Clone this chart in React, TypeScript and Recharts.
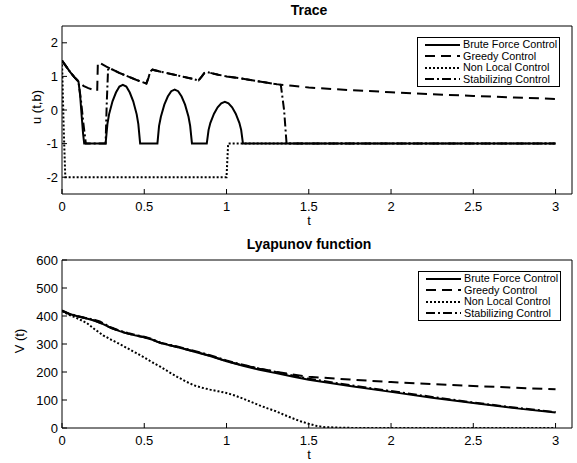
import { LineChart, Line, XAxis, YAxis, Legend } from "recharts";

type Pt = [number, number];

const FONT = '"Liberation Sans", Arial, Helvetica, sans-serif';

const SERIES_NAMES = ["Brute Force Control", "Greedy Control", "Non Local Control", "Stabilizing Control"];
const SERIES_DASH = ["", "10 6", "2 2", "9 3 2 3"];
// non local first, brute force last so it sits on top
const DRAW_ORDER = [2, 1, 3, 0];

const X_TICKS = [0, 0.5, 1, 1.5, 2, 2.5, 3];
const TRACE_TICKS = [-2, -1, 0, 1, 2];
const LYAP_TICKS = [0, 100, 200, 300, 400, 500, 600];

// ---- Trace: u(t,b) ----
const traceBrute: Pt[] = [
  [0, 1.47], [0.025, 1.3], [0.05, 1.13], [0.075, 0.98], [0.1, 0.85],
  [0.11, 0.45], [0.12, -0.2], [0.128, -0.7], [0.135, -1],
  [0.265, -1], [0.276, -0.42], [0.286, -0.13], [0.307, 0.26], [0.328, 0.52], [0.349, 0.7],
  [0.37, 0.75], [0.391, 0.7], [0.412, 0.52], [0.433, 0.26], [0.454, -0.13], [0.464, -0.42], [0.475, -1],
  [0.58, -1], [0.59, -0.47], [0.601, -0.2], [0.622, 0.16], [0.643, 0.4], [0.664, 0.56],
  [0.685, 0.61], [0.706, 0.56], [0.727, 0.4], [0.748, 0.16], [0.769, -0.2], [0.779, -0.47], [0.79, -1],
  [0.88, -1], [0.891, -0.59], [0.902, -0.38], [0.924, -0.11], [0.946, 0.08], [0.968, 0.2],
  [0.99, 0.24], [1.012, 0.2], [1.034, 0.08], [1.056, -0.11], [1.078, -0.38], [1.089, -0.59], [1.1, -1],
  [3, -1],
];
const traceGreedy: Pt[] = [
  [0, 1.47], [0.025, 1.3], [0.05, 1.13], [0.075, 0.98], [0.1, 0.85], [0.13, 0.72], [0.16, 0.65],
  [0.19, 0.6], [0.214, 0.57], [0.218, 1.42], [0.23, 1.4], [0.27, 1.29], [0.3, 1.22], [0.35, 1.1],
  [0.4, 1.0], [0.45, 0.9], [0.5, 0.81], [0.513, 0.79], [0.525, 0.95], [0.537, 1.15], [0.55, 1.2],
  [0.6, 1.14], [0.7, 1.03], [0.8, 0.92], [0.83, 0.88], [0.85, 1.0], [0.865, 1.1], [0.88, 1.13],
  [0.95, 1.05], [1.0, 1.0], [1.1, 0.93], [1.2, 0.85], [1.3, 0.77], [1.4, 0.72], [1.5, 0.67],
  [1.75, 0.59], [2.0, 0.53], [2.25, 0.47], [2.5, 0.42], [2.75, 0.37], [3, 0.33],
];
const traceNonLocal: Pt[] = [
  [0, 1.47], [0.01, -0.5], [0.02, -2], [1.0, -2], [1.005, -1.5], [1.01, -1], [3, -1],
];
const traceStabilizing: Pt[] = [
  [0, 1.47], [0.025, 1.3], [0.05, 1.13], [0.075, 0.98], [0.1, 0.85], [0.115, 0.3], [0.13, -0.4],
  [0.145, -1], [0.265, -1], [0.272, 0.2], [0.28, 1.2], [0.29, 1.25], [0.3, 1.22], [0.35, 1.1],
  [0.4, 1.0], [0.45, 0.9], [0.5, 0.81], [0.513, 0.79], [0.525, 0.95], [0.537, 1.15], [0.55, 1.2],
  [0.6, 1.14], [0.7, 1.03], [0.8, 0.92], [0.83, 0.88], [0.85, 1.0], [0.865, 1.1], [0.88, 1.13],
  [0.95, 1.05], [1.0, 1.0], [1.1, 0.93], [1.2, 0.85], [1.3, 0.77], [1.33, 0.75], [1.35, 0.0],
  [1.365, -1], [3, -1],
];

// ---- Lyapunov function V(t) ----
const lyapBrute: Pt[] = [
  [0, 418], [0.05, 406], [0.1, 398], [0.15, 391], [0.2, 383], [0.25, 371], [0.3, 357], [0.35, 346],
  [0.4, 337], [0.45, 330], [0.5, 324], [0.55, 315], [0.6, 303], [0.7, 289], [0.8, 273], [0.9, 257],
  [1.0, 238], [1.1, 222], [1.2, 208], [1.3, 196], [1.4, 184], [1.5, 172], [1.75, 150], [2.0, 129],
  [2.25, 108], [2.5, 89], [2.75, 71], [3.0, 55],
];
const lyapGreedy: Pt[] = [
  [0, 418], [0.05, 406], [0.1, 398], [0.15, 391], [0.2, 383], [0.25, 371], [0.3, 357], [0.35, 346],
  [0.4, 337], [0.45, 330], [0.5, 324], [0.55, 315], [0.6, 303], [0.7, 289], [0.8, 274], [0.9, 258],
  [1.0, 239], [1.1, 224], [1.2, 212], [1.3, 201], [1.4, 191], [1.5, 183], [1.75, 173], [2.0, 164],
  [2.25, 157], [2.5, 150], [2.75, 144], [3.0, 138],
];
const lyapNonLocal: Pt[] = [
  [0, 418], [0.05, 402], [0.1, 390], [0.15, 375], [0.2, 352], [0.25, 331], [0.3, 315], [0.35, 300],
  [0.4, 284], [0.45, 268], [0.5, 252], [0.55, 234], [0.6, 218], [0.65, 200], [0.7, 183], [0.75, 167],
  [0.8, 153], [0.85, 144], [0.9, 137], [0.95, 131], [1.0, 125], [1.05, 116], [1.1, 105], [1.15, 93],
  [1.2, 81], [1.25, 70], [1.3, 60], [1.35, 47], [1.4, 35], [1.45, 24], [1.5, 15], [1.55, 7],
  [1.6, 3], [1.7, 1], [1.8, 0], [3, 0],
];
const lyapStabilizing: Pt[] = [
  [0, 420], [0.05, 407], [0.1, 399], [0.15, 392], [0.2, 386], [0.23, 381], [0.25, 374], [0.3, 359],
  [0.35, 348], [0.4, 339], [0.45, 332], [0.5, 326], [0.55, 317], [0.6, 305], [0.7, 291], [0.8, 276],
  [0.9, 260], [1.0, 241], [1.1, 226], [1.2, 212], [1.3, 200], [1.4, 188], [1.5, 176], [1.75, 153],
  [2.0, 132], [2.25, 111], [2.5, 91], [2.75, 73], [3.0, 57],
];

const toRows = (pts: Pt[]) => pts.map(([t, v]) => ({ t, v }));

function LegendBox() {
  return (
    <div
      style={{
        background: "#fff",
        border: "1px solid #000",
        padding: "1px 0 2px 7px",
        fontFamily: FONT,
        fontSize: 10.8,
        color: "#000",
        boxSizing: "border-box",
        width: 143,
        height: 50,
      }}
    >
      {SERIES_NAMES.map((name, i) => (
        <div key={name} style={{ display: "flex", alignItems: "center", height: 11.5 }}>
          <svg width={36} height={8} style={{ flex: "none" }}>
            <line x1={0} y1={4} x2={35} y2={4} stroke="#000" strokeWidth={2} strokeDasharray={SERIES_DASH[i] || undefined} />
          </svg>
          <span style={{ marginLeft: 2, whiteSpace: "nowrap", lineHeight: "11px" }}>{name}</span>
        </div>
      ))}
    </div>
  );
}

interface PanelProps {
  title: string;
  yLabel: string;
  yLabelX: number;
  series: Pt[][];
  yDomain: [number, number];
  yTicks: number[];
  height: number;
  top: number;
  bottom: number;
  legendLeft: number;
  legendTop: number;
}

function Panel({ title, yLabel, yLabelX, series, yDomain, yTicks, height, top, bottom, legendLeft, legendTop }: PanelProps) {
  const axisStroke = { stroke: "#000", strokeWidth: 1 };
  const tickStyle = { fill: "#000", fontSize: 13, fontFamily: FONT };
  return (
    <LineChart width={577} height={height} margin={{ top, right: 4, bottom, left: 0 }}>
      <XAxis
        xAxisId={0}
        dataKey="t"
        type="number"
        domain={[0, 3.1]}
        ticks={X_TICKS}
        allowDataOverflow
        height={30}
        tickSize={-5}
        tickMargin={13}
        tick={tickStyle}
        axisLine={axisStroke}
        tickLine={axisStroke}
        label={{
          content: (p: any) => (
            <text x={309} y={p.viewBox.y + 31} textAnchor="middle" fontSize={13} fontFamily={FONT} fill="#000">
              t
            </text>
          ),
        }}
      />
      <XAxis
        xAxisId="top"
        orientation="top"
        dataKey="t"
        type="number"
        domain={[0, 3.1]}
        ticks={X_TICKS}
        allowDataOverflow
        height={1}
        tickSize={-5}
        tick={false}
        axisLine={axisStroke}
        tickLine={axisStroke}
        label={{
          content: (p: any) => (
            <text x={309} y={p.viewBox.y - 10} textAnchor="middle" fontSize={14} fontWeight="bold" fontFamily={FONT} fill="#000">
              {title}
            </text>
          ),
        }}
      />
      <YAxis
        yAxisId={0}
        type="number"
        domain={yDomain}
        ticks={yTicks}
        allowDataOverflow
        width={62}
        tickSize={-5}
        tickMargin={9}
        tick={tickStyle}
        axisLine={axisStroke}
        tickLine={axisStroke}
        label={{
          content: (p: any) => {
            const cy = p.viewBox.y + p.viewBox.height / 2 - 3;
            return (
              <text
                x={yLabelX}
                y={cy}
                transform={`rotate(-90, ${yLabelX}, ${cy})`}
                textAnchor="middle"
                dominantBaseline="central"
                fontSize={13}
                fontFamily={FONT}
                fill="#000"
              >
                {yLabel}
              </text>
            );
          },
        }}
      />
      <YAxis
        yAxisId="right"
        orientation="right"
        type="number"
        domain={yDomain}
        ticks={yTicks}
        allowDataOverflow
        width={1}
        tickSize={-5}
        tick={false}
        axisLine={axisStroke}
        tickLine={axisStroke}
      />
      {DRAW_ORDER.map((i) => (
        <Line
          key={SERIES_NAMES[i]}
          xAxisId={0}
          yAxisId={0}
          data={toRows(series[i])}
          dataKey="v"
          name={SERIES_NAMES[i]}
          type="linear"
          stroke="#000"
          strokeWidth={2}
          strokeDasharray={SERIES_DASH[i] || undefined}
          dot={false}
          activeDot={false}
          isAnimationActive={false}
        />
      ))}
      <Legend
        layout="horizontal"
        verticalAlign="middle"
        align="center"
        wrapperStyle={{ left: legendLeft, top: legendTop, width: 143, height: 50 }}
        content={() => <LegendBox />}
      />
    </LineChart>
  );
}

export default function App() {
  return (
    <div style={{ position: "absolute", left: 0, top: 0, width: 577, height: 463, background: "#fff" }}>
      <Panel
        title="Trace"
        yLabel="u (t,b)"
        yLabelX={36}
        series={[traceBrute, traceGreedy, traceNonLocal, traceStabilizing]}
        yDomain={[-2.5, 2.5]}
        yTicks={TRACE_TICKS}
        height={232}
        top={25}
        bottom={8}
        legendLeft={417}
        legendTop={37}
      />
      <Panel
        title="Lyapunov function"
        yLabel="V (t)"
        yLabelX={19}
        series={[lyapBrute, lyapGreedy, lyapNonLocal, lyapStabilizing]}
        yDomain={[0, 600]}
        yTicks={LYAP_TICKS}
        height={231}
        top={27}
        bottom={5}
        legendLeft={418}
        legendTop={39}
      />
    </div>
  );
}
